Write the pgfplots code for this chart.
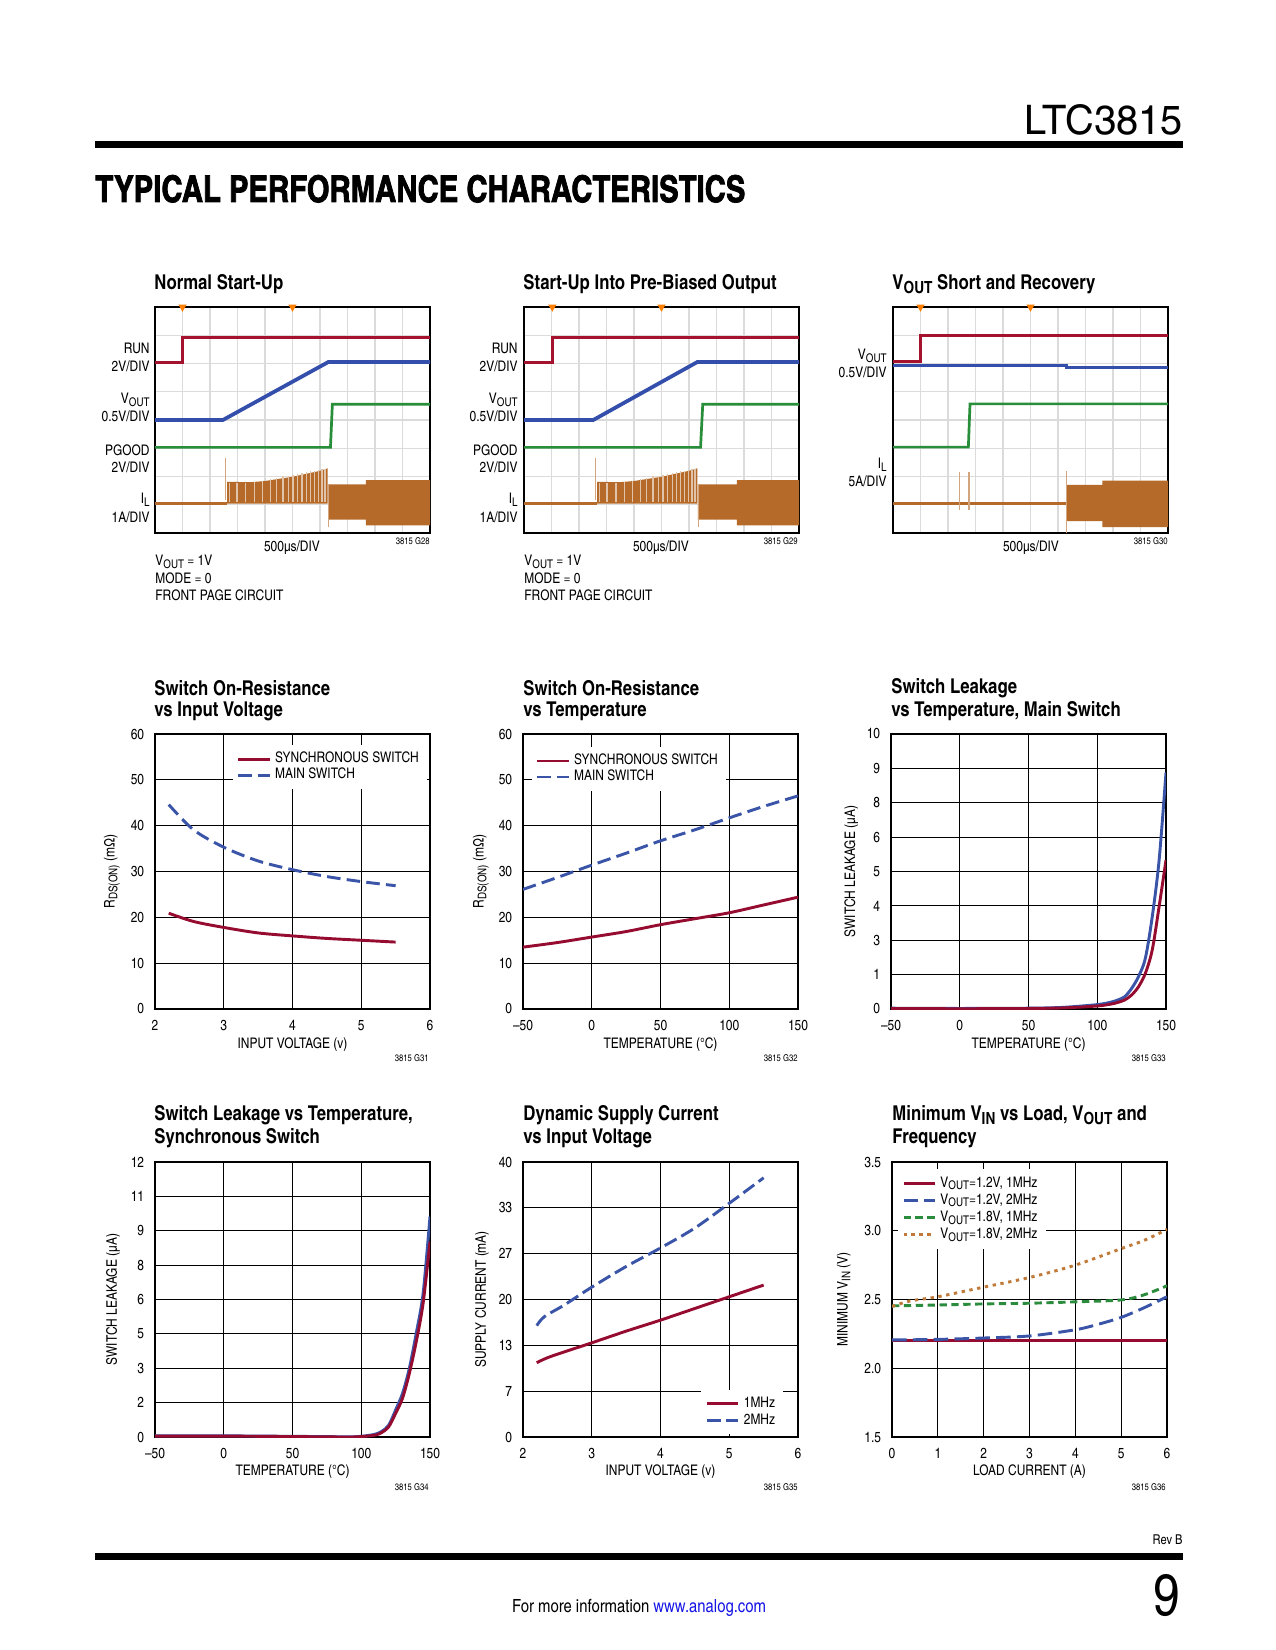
\documentclass[border=0pt]{standalone}
\usepackage{fontspec}
\usepackage{graphicx}
\usepackage{pgfplots}
\pgfplotsset{compat=1.18}
\setmainfont{texgyreheroscn}[Extension=.otf,UprightFont=*-regular,BoldFont=*-bold,ItalicFont=*-italic,BoldItalicFont=*-bolditalic]
\newfontfamily\headfont{texgyreheroscn-bold.otf}[FakeBold=2]

\definecolor{ltred}{RGB}{150,12,48}
\definecolor{ltblue}{RGB}{58,84,168}
\definecolor{ltgreen}{RGB}{44,140,62}
\definecolor{ltorange}{RGB}{192,122,58}
\definecolor{scR}{RGB}{165,18,45}
\definecolor{scB}{RGB}{52,78,172}
\definecolor{scG}{RGB}{40,142,58}
\definecolor{scO}{RGB}{181,106,42}
\definecolor{link}{RGB}{20,20,230}

\newcommand\tk{\fontsize{7}{8}\selectfont}
\newcommand\ttl{\fontsize{9.8}{11}\selectfont\bfseries}
\newcommand\tny{\fontsize{4.5}{5}\selectfont}
\newcommand\sub[1]{\raisebox{-0.35ex}{\scalebox{0.82}{#1}}}

\pgfplotsset{
  ltax/.style={
    scale only axis, width=132pt, height=132pt, anchor=south west,
    axis line style={line width=0.75pt},
    grid=major, major grid style={line width=0.5pt, black},
    major tick length=0pt,
    tick label style={font=\tk},
    xticklabel shift=2pt, yticklabel shift=1.7pt,
    label style={font=\tk},
    xlabel style={at={(axis description cs:0.5,-0.131)}, anchor=center},
    every axis plot/.append style={line width=1.4pt},
    legend cell align=left,
    legend style={draw=none, fill=white, font=\tk, inner xsep=2pt, inner ysep=1.5pt, row sep=-3pt},
    legend image code/.code={\draw[##1] (0pt,0pt) -- (15pt,0pt);},
  },
  scopeax/.style={
    scale only axis, width=132pt, height=108.5pt, anchor=south west,
    xmin=0, xmax=10, ymin=0, ymax=8,
    xtick={0,...,10}, ytick={0,...,8}, xticklabels={}, yticklabels={},
    major tick length=0pt,
    grid=major, major grid style={line width=0.6pt, gray!28},
    axis line style={line width=1pt},
    every axis plot/.append style={line width=1.3pt},
  },
  trig/.style={only marks, color=orange, mark=triangle*, mark size=1pt, mark options={rotate=180}},
}

\begin{document}
\begin{tikzpicture}
\begin{scope}[x=0.48pt,y=-0.48pt]
\fill[white] (0,0) rectangle (1275,1650);
\useasboundingbox (0,0) rectangle (1275,1650);
\coordinate (A1) at (155,533);
\coordinate (A2) at (524,533);
\coordinate (A3) at (893,533);
\coordinate (A4) at (155,1009);
\coordinate (A5) at (523,1009);
\coordinate (A6) at (891,1009);
\coordinate (A7) at (155,1437);
\coordinate (A8) at (523,1437);
\coordinate (A9) at (892,1437);

% page header
\node[anchor=base east, inner sep=0] at (1183,135) {\resizebox{76pt}{14.4pt}{LTC3815}};
\fill[black] (95,141) rectangle (1183,148);
\node[anchor=base west, inner sep=0] at (95,202) {\resizebox{312pt}{13pt}{\headfont TYPICAL PERFORMANCE CHARACTERISTICS}};

% titles
\tikzset{tt/.style={anchor=west, inner sep=0, font=\ttl}, lb/.style={anchor=east, inner sep=0, font=\tk}, nt/.style={anchor=west, inner sep=0, font=\tk}, cd/.style={anchor=east, inner sep=0, font=\tny}}
\node[tt] at (154,284) {Normal Start-Up};
\node[tt] at (523,284) {Start-Up Into Pre-Biased Output};
\node[tt] at (892,284) {V\sub{OUT} Short and Recovery};
\node[tt] at (154,688) {Switch On-Resistance};
\node[tt] at (154,711) {vs Input Voltage};
\node[tt] at (523,688) {Switch On-Resistance};
\node[tt] at (523,711) {vs Temperature};
\node[tt] at (891,688) {Switch Leakage};
\node[tt] at (891,711) {vs Temperature, Main Switch};
\node[tt] at (154,1115) {Switch Leakage vs Temperature,};
\node[tt] at (154,1138) {Synchronous Switch};
\node[tt] at (523,1115) {Dynamic Supply Current};
\node[tt] at (523,1138) {vs Input Voltage};
\node[tt] at (892,1115) {Minimum V\sub{IN} vs Load, V\sub{OUT} and};
\node[tt] at (892,1138) {Frequency};

% scope labels
\foreach \xx in {150,518} {
  \node[lb] at (\xx,348) {RUN};
  \node[lb] at (\xx,366) {2V/DIV};
  \node[lb] at (\xx,400) {V\sub{OUT}};
  \node[lb] at (\xx,416) {0.5V/DIV};
  \node[lb] at (\xx,450) {PGOOD};
  \node[lb] at (\xx,467) {2V/DIV};
  \node[lb] at (\xx,500) {I\sub{L}};
  \node[lb] at (\xx,517) {1A/DIV};
}
\node[lb] at (887,356) {V\sub{OUT}};
\node[lb] at (887,372) {0.5V/DIV};
\node[lb] at (887,465) {I\sub{L}};
\node[lb] at (887,481) {5A/DIV};
\node[font=\tk, inner sep=0] at (292,548) {500µs/DIV};
\node[font=\tk, inner sep=0] at (661,548) {500µs/DIV};
\node[font=\tk, inner sep=0] at (1031,548) {500µs/DIV};
\node[cd] at (430,541) {3815 G28};
\node[cd] at (798,541) {3815 G29};
\node[cd] at (1168,541) {3815 G30};
\foreach \xx in {155,524} {
  \node[nt] at (\xx,562) {V\sub{OUT} = 1V};
  \node[nt] at (\xx,578) {MODE = 0};
  \node[nt] at (\xx,595) {FRONT PAGE CIRCUIT};
}
\node[cd] at (429,1058) {3815 G31};
\node[cd] at (798,1058) {3815 G32};
\node[cd] at (1166,1058) {3815 G33};
\node[cd] at (429,1487) {3815 G34};
\node[cd] at (798,1487) {3815 G35};
\node[cd] at (1166,1487) {3815 G36};

% footer
\node[anchor=east, inner sep=0, font=\fontsize{6.5}{7}\selectfont] at (1183,1540) {Rev B};
\fill[black] (95,1553) rectangle (1183,1560);
\node[anchor=base east, inner sep=0] at (1181,1615) {\resizebox{!}{19.7pt}{9}};
\node[inner sep=0, font=\fontsize{8.7}{10}\selectfont] at (639,1608) {For more information \textcolor{link}{www.analog.com}};
\end{scope}

% ---------- scope 1: normal start-up
\begin{axis}[scopeax, at={(A1)}]
\addplot[scR] coordinates {(0,6.04) (1.0,6.04) (1.0,6.93) (10,6.93)};
\addplot[scB, line width=1.8pt] coordinates {(0,4.0) (2.47,4.0) (6.3,6.05) (10,6.05)};
\addplot[scG] coordinates {(0,3.03) (6.38,3.03) (6.45,4.56) (10,4.56)};
\addplot[scO] coordinates {(0,1.04) (2.62,1.04)};
\addplot[fill=scO, draw=none] coordinates {(2.62,1.04) (2.62,1.81) (3.5,1.80) (4.0,1.84) (5.0,1.99) (6.0,2.2) (6.28,2.29) (6.28,1.04)} -- cycle;
\addplot[scO!40!white, line width=0.7pt, unbounded coords=jump] coordinates {
 (2.70,1.1) (2.70,1.76) (2.70,nan) (2.98,1.1) (2.98,1.76) (2.98,nan)
 (3.30,1.1) (3.30,1.76) (3.30,nan) (3.62,1.1) (3.62,1.80) (3.62,nan)
 (3.90,1.1) (3.90,1.85) (3.90,nan) (4.20,1.1) (4.20,1.91) (4.20,nan)
 (4.42,1.1) (4.42,1.95) (4.42,nan) (4.65,1.1) (4.65,2.00) (4.65,nan)
 (4.85,1.1) (4.85,2.03) (4.85,nan) (5.02,1.1) (5.02,2.06) (5.02,nan)
 (5.18,1.1) (5.18,2.09) (5.18,nan) (5.35,1.1) (5.35,2.12) (5.35,nan)
 (5.50,1.1) (5.50,2.15) (5.50,nan) (5.65,1.1) (5.65,2.18) (5.65,nan)
 (5.80,1.1) (5.80,2.20) (5.80,nan) (5.95,1.1) (5.95,2.23) (5.95,nan)
 (6.08,1.1) (6.08,2.26) (6.08,nan) (6.18,1.1) (6.18,2.28)};
\addplot[scO!60!white, line width=0.6pt] coordinates {(2.56,1.16) (2.56,2.64)};
\addplot[fill=scO, draw=none] coordinates {(6.3,0.47) (6.3,1.72) (7.67,1.72) (7.67,1.87) (10,1.87) (10,0.27) (7.67,0.27) (7.67,0.47)} -- cycle;
\addplot[scO!60!white, line width=0.6pt] coordinates {(6.32,0.21) (6.32,1.72)};
\addplot[trig] coordinates {(1,8) (5,8)};
\end{axis}

% ---------- scope 2: pre-biased output
\begin{axis}[scopeax, at={(A2)}]
\addplot[scR] coordinates {(0,6.04) (1.03,6.04) (1.03,6.93) (10,6.93)};
\addplot[scB, line width=1.8pt] coordinates {(0,4.0) (2.52,4.0) (6.3,6.05) (10,6.05)};
\addplot[scG] coordinates {(0,3.03) (6.42,3.03) (6.5,4.56) (10,4.56)};
\addplot[scO] coordinates {(0,1.04) (2.66,1.04)};
\addplot[fill=scO, draw=none] coordinates {(2.66,1.04) (2.66,1.81) (3.5,1.80) (4.0,1.84) (5.0,1.99) (6.0,2.2) (6.3,2.29) (6.3,1.04)} -- cycle;
\addplot[scO!40!white, line width=0.7pt, unbounded coords=jump] coordinates {
 (2.74,1.1) (2.74,1.76) (2.74,nan) (3.02,1.1) (3.02,1.76) (3.02,nan)
 (3.34,1.1) (3.34,1.76) (3.34,nan) (3.66,1.1) (3.66,1.80) (3.66,nan)
 (3.94,1.1) (3.94,1.85) (3.94,nan) (4.24,1.1) (4.24,1.91) (4.24,nan)
 (4.46,1.1) (4.46,1.95) (4.46,nan) (4.69,1.1) (4.69,2.00) (4.69,nan)
 (4.89,1.1) (4.89,2.03) (4.89,nan) (5.06,1.1) (5.06,2.06) (5.06,nan)
 (5.22,1.1) (5.22,2.09) (5.22,nan) (5.39,1.1) (5.39,2.12) (5.39,nan)
 (5.54,1.1) (5.54,2.15) (5.54,nan) (5.69,1.1) (5.69,2.18) (5.69,nan)
 (5.84,1.1) (5.84,2.20) (5.84,nan) (5.99,1.1) (5.99,2.23) (5.99,nan)
 (6.11,1.1) (6.11,2.26) (6.11,nan) (6.21,1.1) (6.21,2.28)};
\addplot[scO!60!white, line width=0.6pt] coordinates {(2.6,1.16) (2.6,2.64)};
\addplot[fill=scO, draw=none] coordinates {(6.32,0.47) (6.32,1.72) (7.74,1.72) (7.74,1.87) (10,1.87) (10,0.27) (7.74,0.27) (7.74,0.47)} -- cycle;
\addplot[scO!60!white, line width=0.6pt] coordinates {(6.34,0.21) (6.34,1.72)};
\addplot[trig] coordinates {(1.03,8) (5,8)};
\end{axis}

% ---------- scope 3: short and recovery
\begin{axis}[scopeax, at={(A3)}]
\addplot[scR] coordinates {(0,6.08) (1.0,6.08) (1.0,6.99) (10,6.99)};
\addplot[scB, line width=1.6pt] coordinates {(0,5.92) (6.3,5.92) (6.3,5.86) (10,5.86)};
\addplot[scG] coordinates {(0,3.04) (2.74,3.04) (2.8,4.57) (10,4.57)};
\addplot[scO] coordinates {(0,1.05) (6.3,1.05)};
\addplot[scO!60!white, line width=0.6pt, unbounded coords=jump] coordinates {(2.41,0.82) (2.41,2.15) (2.41,nan) (2.76,0.82) (2.76,2.15)};
\addplot[fill=scO, draw=none] coordinates {(6.3,0.42) (6.3,1.70) (7.61,1.70) (7.61,1.85) (10,1.85) (10,0.21) (7.61,0.21) (7.61,0.42)} -- cycle;
\addplot[scO!60!white, line width=0.6pt] coordinates {(6.3,0) (6.3,2.2)};
\addplot[trig] coordinates {(1,8) (5,8)};
\end{axis}

% ---------- switch on-resistance vs input voltage
\begin{axis}[ltax, at={(A4)},
  xmin=2, xmax=6, ymin=0, ymax=60, xtick={2,...,6}, ytick={0,10,...,60},
  xticklabels={2,3,4,5,6}, yticklabels={0,10,20,30,40,50,60},
  xlabel={INPUT VOLTAGE (v)}, ylabel={R\sub{DS(ON)} (mΩ)},
  ylabel style={at={(axis description cs:-0.157,0.5)}, anchor=center},
  legend style={at={(axis description cs:0.281,0.962)}, anchor=north west}]
\addplot[ltred, smooth] coordinates {(2.2,20.9) (2.56,19.1) (3.0,17.8) (3.5,16.6) (4.0,15.95) (4.5,15.4) (5.0,15.0) (5.5,14.6)};
\addlegendentry{SYNCHRONOUS SWITCH}
\addplot[ltblue, smooth, dash pattern=on 6.5pt off 3pt] coordinates {(2.2,44.6) (2.56,39.1) (3.0,35.3) (3.5,32.3) (4.0,30.4) (4.5,28.9) (5.0,27.8) (5.5,26.9)};
\addlegendentry{MAIN SWITCH}
\end{axis}

% ---------- switch on-resistance vs temperature
\begin{axis}[ltax, at={(A5)},
  xmin=-50, xmax=150, ymin=0, ymax=60, xtick={-50,0,50,100,150}, ytick={0,10,...,60},
  xticklabels={–50,0,50,100,150}, yticklabels={0,10,20,30,40,50,60},
  xlabel={TEMPERATURE (°C)}, ylabel={R\sub{DS(ON)} (mΩ)},
  ylabel style={at={(axis description cs:-0.153,0.5)}, anchor=center},
  legend style={at={(axis description cs:0.03,0.955)}, anchor=north west}]
\addplot[ltred, smooth] coordinates {(-50,13.5) (-25,14.5) (0,15.7) (25,16.9) (50,18.4) (75,19.7) (100,21.0) (125,22.7) (150,24.4)};
\addlegendentry{SYNCHRONOUS SWITCH}
\addplot[ltblue, smooth, dash pattern=on 6.5pt off 3pt] coordinates {(-50,26.1) (-25,28.7) (0,31.4) (25,34.0) (50,36.7) (75,39.1) (100,41.7) (125,44.2) (150,46.5)};
\addlegendentry{MAIN SWITCH}
\end{axis}

% ---------- switch leakage, main switch
\begin{axis}[ltax, at={(A6)},
  xmin=-50, xmax=150, ymin=0, ymax=10, xtick={-50,0,50,100,150}, ytick={0,1.25,2.5,3.75,5,6.25,7.5,8.75,10},
  xticklabels={–50,0,50,100,150}, yticklabels={0,1,3,4,5,6,8,9,10},
  xlabel={TEMPERATURE (°C)}, ylabel={SWITCH LEAKAGE (µA)},
  ylabel style={at={(axis description cs:-0.145,0.5)}, anchor=center}]
\addplot[ltblue, smooth] coordinates {(-50,0.03) (0,0.02) (50,0.03) (75,0.06) (100,0.16) (110,0.25) (115,0.33) (120,0.45) (125,0.75) (130,1.18) (135,1.85) (140,3.36) (145,5.42) (150,8.6)};
\addplot[ltred, smooth] coordinates {(-50,0.02) (0,0.01) (50,0.02) (75,0.04) (100,0.11) (110,0.18) (115,0.24) (120,0.33) (125,0.51) (130,0.81) (135,1.3) (140,2.15) (145,3.73) (150,5.42)};
\end{axis}

% ---------- switch leakage, synchronous switch
\begin{axis}[ltax, at={(A7)},
  xmin=-50, xmax=150, ymin=0, ymax=12, xtick={-50,0,50,100,150}, ytick={0,1.5,3,4.5,6,7.5,9,10.5,12},
  xticklabels={–50,0,50,100,150}, yticklabels={0,2,3,5,6,8,9,11,12},
  xlabel={TEMPERATURE (°C)}, ylabel={SWITCH LEAKAGE (µA)},
  xlabel style={at={(axis description cs:0.5,-0.127)}},
  ylabel style={at={(axis description cs:-0.153,0.5)}, anchor=center}]
\addplot[ltblue, smooth] coordinates {(-50,0.05) (0,0.05) (50,0.03) (90,0.01) (100,0.03) (110,0.12) (115,0.25) (120,0.52) (125,1.18) (130,1.9) (135,3.0) (140,4.53) (145,6.27) (150,9.62)};
\addplot[ltred, smooth] coordinates {(-50,0.04) (0,0.04) (50,0.02) (90,0.0) (100,0.02) (110,0.08) (115,0.2) (120,0.45) (125,1.03) (130,1.69) (135,2.78) (140,4.16) (145,5.84) (150,8.53)};
\end{axis}

% ---------- dynamic supply current
\begin{axis}[ltax, at={(A8)},
  xmin=2, xmax=6, ymin=0, ymax=40, xtick={2,...,6}, ytick={0,6.667,13.333,20,26.667,33.333,40},
  xticklabels={2,3,4,5,6}, yticklabels={0,7,13,20,27,33,40},
  xlabel={INPUT VOLTAGE (v)}, ylabel={SUPPLY CURRENT (mA)},
  xlabel style={at={(axis description cs:0.5,-0.127)}},
  ylabel style={at={(axis description cs:-0.149,0.5)}, anchor=center},
  legend style={at={(axis description cs:0.647,0.174)}, anchor=north west, row sep=-2.5pt}]
\addplot[ltred, smooth] coordinates {(2.2,10.8) (2.4,11.7) (3.0,13.7) (3.5,15.4) (4.0,17.0) (4.5,18.7) (5.0,20.4) (5.5,22.1)};
\addlegendentry{1MHz}
\addplot[ltblue, smooth, dash pattern=on 6.5pt off 2.6pt] coordinates {(2.2,16.2) (2.31,17.5) (2.6,19.2) (3.0,21.8) (3.5,24.8) (4.0,27.5) (4.5,30.4) (5.0,34.0) (5.5,37.7)};
\addlegendentry{2MHz}
\end{axis}

% ---------- minimum VIN
\begin{axis}[ltax, at={(A9)},
  xmin=0, xmax=6, ymin=1.5, ymax=3.5, xtick={0,...,6}, ytick={1.5,2,2.5,3,3.5},
  xticklabels={0,1,2,3,4,5,6}, yticklabels={1.5,2.0,2.5,3.0,3.5},
  xlabel={LOAD CURRENT (A)}, ylabel={MINIMUM V\sub{IN} (V)},
  xlabel style={at={(axis description cs:0.5,-0.127)}},
  ylabel style={at={(axis description cs:-0.175,0.5)}, anchor=center},
  legend style={at={(axis description cs:0.02,0.975)}, anchor=north west, row sep=-2.3pt}]
\addplot[ltred] coordinates {(0,2.20) (6,2.20)};
\addlegendentry{V\sub{OUT}=1.2V, 1MHz}
\addplot[ltblue, smooth, dash pattern=on 7pt off 3pt] coordinates {(0,2.206) (1,2.21) (2,2.22) (3,2.235) (4,2.28) (4.5,2.32) (5,2.37) (5.5,2.44) (6,2.52)};
\addlegendentry{V\sub{OUT}=1.2V, 2MHz}
\addplot[ltgreen, smooth, dash pattern=on 3.5pt off 2.2pt] coordinates {(0,2.454) (1,2.46) (2,2.468) (3,2.473) (4,2.483) (5,2.497) (5.5,2.534) (6,2.60)};
\addlegendentry{V\sub{OUT}=1.8V, 1MHz}
\addplot[ltorange, smooth, dash pattern=on 1.6pt off 2.2pt] coordinates {(0,2.45) (0.4,2.49) (1,2.52) (2,2.59) (3,2.66) (4,2.75) (5,2.87) (5.5,2.93) (6,3.01)};
\addlegendentry{V\sub{OUT}=1.8V, 2MHz}
\end{axis}
\end{tikzpicture}
\end{document}
